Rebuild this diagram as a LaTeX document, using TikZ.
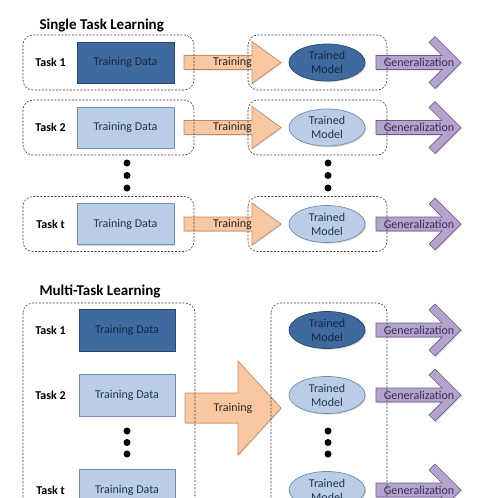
\documentclass[tikz,border=0pt]{standalone}
\usepackage{fontspec}
\setmainfont{Carlito}
\usetikzlibrary{shadows,shapes.geometric}
\definecolor{dkfill}{RGB}{62,106,158}
\definecolor{dkborder}{RGB}{40,70,110}
\definecolor{dktext}{RGB}{22,40,68}
\definecolor{ltfill}{RGB}{185,205,229}
\definecolor{ltborder}{RGB}{110,140,180}
\definecolor{lttext}{RGB}{30,52,85}
\definecolor{peach}{RGB}{250,200,160}
\definecolor{peachborder}{RGB}{190,140,105}
\definecolor{purp}{RGB}{180,164,204}
\definecolor{purpborder}{RGB}{110,90,145}
\definecolor{purptext}{RGB}{60,45,85}
\newcommand\trainarrow[1]{%
  \draw[trainshape] (184,#1-7) -- (252,#1-7) -- (252,#1-21) -- (281,#1) -- (252,#1+21) -- (252,#1+7) -- (184,#1+7) -- cycle;}
\newcommand\genarrow[1]{%
  \draw[genshape] (376,#1-7) -- (442,#1-7) -- (429,#1-20) -- (435,#1-26) -- (461,#1) -- (435,#1+26) -- (429,#1+20) -- (442,#1+7) -- (376,#1+7) -- cycle;}
\begin{document}
\begin{tikzpicture}[x=1pt,y=-1pt,
  txt/.style={font=\fontsize{12}{14}\selectfont},
  title/.style={font=\bfseries\fontsize{15}{17}\selectfont, anchor=base west},
  tasklbl/.style={font=\bfseries\fontsize{12}{14}\selectfont},
  dashbox/.style={draw=black!75, dash pattern=on 2pt off 1.5pt, line width=0.6pt, rounded corners=10pt},
  databox/.style={txt, rectangle, minimum width=97pt, minimum height=41pt, inner sep=0pt, line width=0.7pt,
    drop shadow={shadow xshift=1.2pt, shadow yshift=-1.2pt, opacity=0.3}},
  dkd/.style={databox, fill=dkfill, draw=dkborder, text=dktext},
  ltd/.style={databox, fill=ltfill, draw=ltborder, text=lttext},
  model/.style={txt, ellipse, minimum width=76pt, minimum height=37pt, inner sep=0pt, align=center, line width=0.7pt,
    drop shadow={shadow xshift=1.2pt, shadow yshift=-1.2pt, opacity=0.3}},
  dkm/.style={model, fill=dkfill, draw=dkborder, text=dktext},
  ltm/.style={model, fill=ltfill, draw=ltborder, text=lttext},
  trainshape/.style={fill=peach, draw=peachborder, line width=0.7pt,
    drop shadow={shadow xshift=1pt, shadow yshift=-1pt, opacity=0.25}},
  genshape/.style={fill=purp, draw=purpborder, line width=0.7pt,
    drop shadow={shadow xshift=1pt, shadow yshift=-1pt, opacity=0.25}},
  trainlbl/.style={txt, text=black!85},
  genlbl/.style={txt, text=purptext},
  dot/.style={circle, fill=black, inner sep=0pt, minimum size=7pt}
]
\clip (0,0) rectangle (482,498);
\fill[white] (0,0) rectangle (482,498);

% ---------- Single Task Learning ----------
\node[title] (st) at (36,29) {Single Task Learning};
\foreach \yc/\k/\lab/\ds/\ms in {62.5/1/1/dkd/dkm, 127.5/2/2/ltd/ltm, 224/3/t/ltd/ltm}{
  \trainarrow{\yc}
  \genarrow{\yc}
  \node[trainlbl] (str\k) at (232.5,\yc) {Training};
  \node[genlbl] (sg\k) at (419,\yc) {Generalization};
  \draw[dashbox] (23,\yc-27.5) rectangle (194,\yc+27.5);
  \draw[dashbox] (248,\yc-27.5) rectangle (387,\yc+27.5);
  \node[tasklbl] (stk\k) at (50.5,\yc) {Task \lab};
  \node[\ds] (sd\k) at (125.5,\yc) {Training Data};
  \node[\ms] (sm\k) at (327,\yc) {Trained\\Model};
}
\foreach \yy/\k in {163/1,175.5/2,188/3}{
  \node[dot] (sdl\k) at (127,\yy) {};
  \node[dot] (sdr\k) at (328,\yy) {};
}

% ---------- Multi-Task Learning ----------
\node[title] (mt) at (36,295.5) {Multi-Task Learning};
\draw[trainshape] (185,393) -- (238,393) -- (238,361) -- (281,408) -- (238,455) -- (238,423) -- (185,423) -- cycle;
\node[trainlbl] (mtr) at (233,408) {Training};
\foreach \yc/\k/\lab/\ds/\ms in {330/1/1/dkd/dkm, 395/2/2/ltd/ltm, 490/3/t/ltd/ltm}{
  \genarrow{\yc}
  \node[genlbl] (mg\k) at (419,\yc) {Generalization};
  \node[tasklbl] (mtk\k) at (50.5,\yc) {Task \lab};
  \node[\ds, minimum width=96pt, minimum height=42pt] (md\k) at (127,\yc) {Training Data};
  \node[\ms] (mm\k) at (327,\yc) {Trained\\Model};
}
\draw[dashbox] (23,303) rectangle (195,540);
\draw[dashbox] (271,303) rectangle (387,540);
\foreach \yy/\k in {431/1,442.5/2,454/3}{
  \node[dot] (mdl\k) at (127,\yy) {};
  \node[dot] (mdr\k) at (328,\yy) {};
}
\end{tikzpicture}
\end{document}
